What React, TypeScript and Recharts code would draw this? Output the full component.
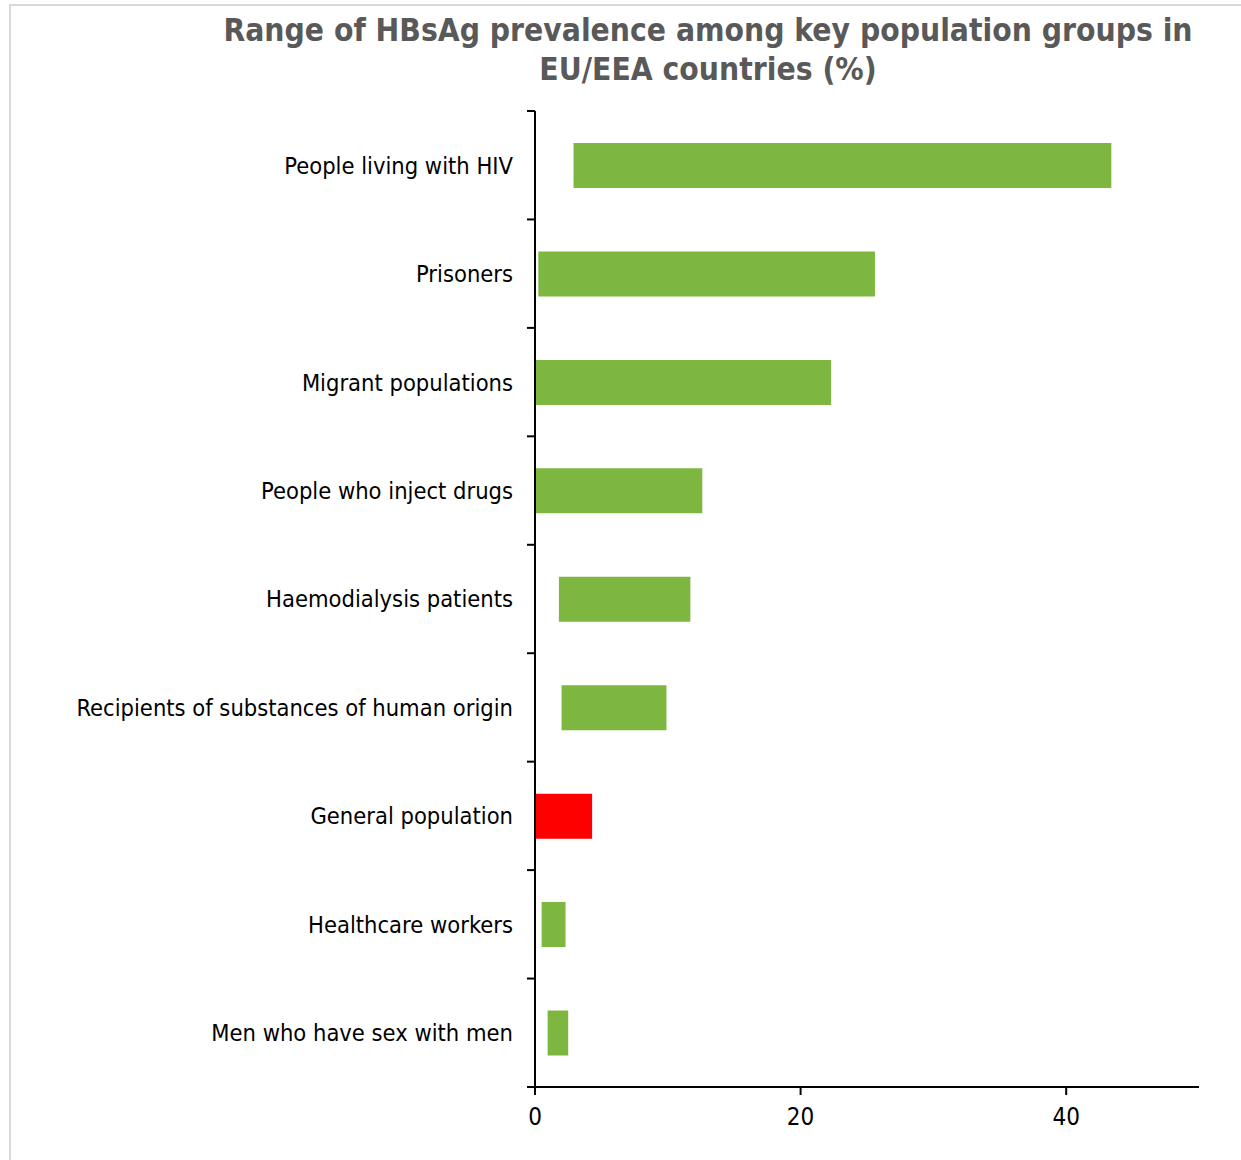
import { BarChart, Bar, XAxis, YAxis, Cell } from "recharts";

// population groups, top to bottom
const categories = [
  "People living with HIV",
  "Prisoners",
  "Migrant populations",
  "People who inject drugs",
  "Haemodialysis patients",
  "Recipients of substances of human origin",
  "General population",
  "Healthcare workers",
  "Men who have sex with men",
];

// range of HBsAg prevalence (%)
const lows = [2.9, 0.25, 0, 0, 1.8, 2.0, 0, 0.5, 0.95];
const highs = [43.4, 25.6, 22.3, 12.6, 11.7, 9.9, 4.3, 2.3, 2.5];

const xTicks = [0, 20, 40];

const GREEN = "#7DB73F";
const RED = "#FF0000";

const data = categories.map((name, i) => ({
  name,
  range: [lows[i], highs[i]],
  color: name === "General population" ? RED : GREEN,
}));

const FONT = "'DejaVu Sans Condensed', 'DejaVu Sans', sans-serif";
const LABEL_GAP = 22;
const TICK_LEN = 8;

// category label plus Excel-style tick marks on the band edges
function CategoryTick(props: any) {
  const { x, y, payload, index, visibleTicksCount } = props;
  const half = payload?.offset ?? 0;
  const axisX = x + LABEL_GAP;
  const isLast = index === visibleTicksCount - 1;
  return (
    <g>
      {half > 0 && (
        <line x1={axisX - TICK_LEN} x2={axisX} y1={y - half} y2={y - half} stroke="#000" strokeWidth={2} />
      )}
      {half > 0 && isLast && (
        <line x1={axisX - TICK_LEN} x2={axisX} y1={y + half} y2={y + half} stroke="#000" strokeWidth={2} />
      )}
      <text x={x} y={y} dy="0.36em" textAnchor="end" fill="#000" fontSize={23.5} fontFamily={FONT}>
        {payload.value}
      </text>
    </g>
  );
}

export default function App() {
  return (
    <div
      style={{
        position: "absolute",
        left: 0,
        top: 0,
        width: 1241,
        height: 1160,
        overflow: "hidden",
        background: "#fff",
        fontFamily: FONT,
      }}
    >
      <div
        style={{
          position: "absolute",
          left: 9,
          top: 4,
          width: 1400,
          height: 1400,
          border: "2px solid #d9d9d9",
        }}
      />
      <div
        style={{
          position: "absolute",
          left: 208,
          width: 1000,
          top: 11,
          textAlign: "center",
          fontWeight: "bold",
          fontSize: 31.5,
          lineHeight: "39px",
          color: "#595959",
        }}
      >
        Range of HBsAg prevalence among key population groups in
        <br />
        EU/EEA countries (%)
      </div>
      <div style={{ position: "absolute", left: 0, top: 0 }}>
        <BarChart
          width={1241}
          height={1160}
          data={data}
          layout="vertical"
          margin={{ top: 111, right: 42, bottom: 43, left: 0 }}
          barSize={45}
        >
          <YAxis
            type="category"
            dataKey="name"
            width={535}
            tickSize={0}
            tickMargin={LABEL_GAP}
            tickLine={false}
            axisLine={{ stroke: "#000", strokeWidth: 2 }}
            tick={<CategoryTick />}
            interval={0}
          />
          <XAxis
            type="number"
            domain={[0, 50]}
            ticks={xTicks}
            height={30}
            tickSize={8}
            tickMargin={13}
            axisLine={{ stroke: "#000", strokeWidth: 2 }}
            tickLine={{ stroke: "#000", strokeWidth: 2 }}
            tick={{ fill: "#000", fontSize: 24, fontFamily: FONT }}
          />
          <Bar dataKey="range" isAnimationActive={false}>
            {data.map((d, i) => (
              <Cell key={i} fill={d.color} />
            ))}
          </Bar>
        </BarChart>
      </div>
    </div>
  );
}
